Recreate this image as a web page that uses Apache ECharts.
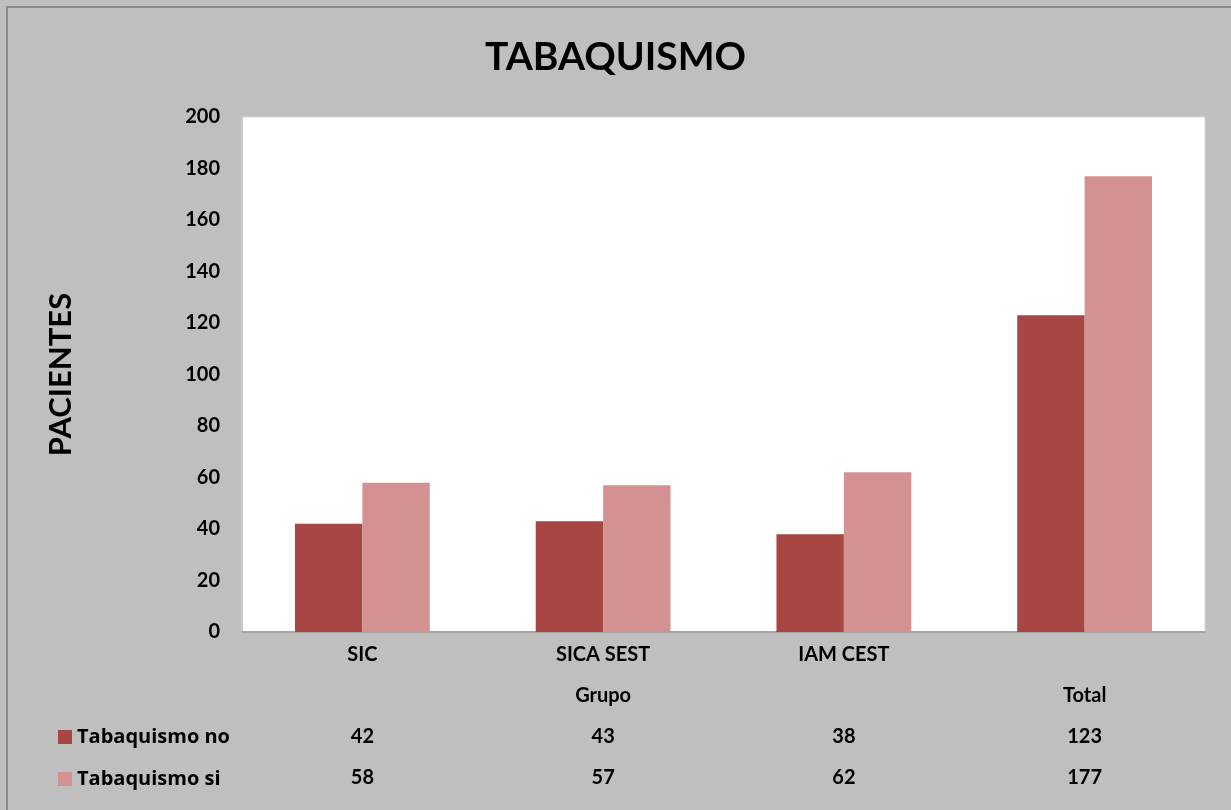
<!DOCTYPE html>
<html>
<head>
<meta charset="utf-8">
<title>TABAQUISMO</title>
<script src="https://cdn.jsdelivr.net/npm/echarts@6/dist/echarts.min.js"></script>
<style>
  html, body { margin: 0; padding: 0; background: #bfbfbf; overflow: hidden; }
  #frame { position: absolute; left: 6px; top: 6px; width: 1240px; height: 820px;
           border: 2px solid #8c8c8c; box-sizing: border-box; }
  #chart { position: absolute; left: 0; top: 0; width: 1231px; height: 810px; }
</style>
</head>
<body>
<div id="frame"></div>
<div id="chart"></div>
<script>
// Smoking status of patients by group
const categories = ['SIC', 'SICA SEST', 'IAM CEST', ''];
const groupLabels = ['', 'Grupo', '', 'Total'];
const seriesNames = ['Tabaquismo no', 'Tabaquismo si'];
const tabaquismoNo = [42, 43, 38, 123];
const tabaquismoSi = [58, 57, 62, 177];
const yTicks = { min: 0, max: 200, interval: 20 };

const FONT = 'Lato, "Open Sans", sans-serif';
const chart = echarts.init(document.getElementById('chart'), null, { renderer: 'canvas' });

chart.setOption({
  backgroundColor: 'transparent',
  animation: false,
  title: {
    text: 'TABAQUISMO',
    left: 'center',
    top: 33,
    textStyle: { fontFamily: FONT, fontWeight: 'bold', fontSize: 39, color: '#000' }
  },
  legend: {
    orient: 'vertical',
    left: 53,
    top: 722,
    itemWidth: 14,
    itemHeight: 14,
    itemGap: 22,
    icon: 'rect',
    selectedMode: false,
    textStyle: { fontFamily: '"Open Sans", sans-serif', fontWeight: 'bold', fontSize: 20, color: '#000' },
    data: seriesNames
  },
  grid: {
    left: 242, top: 117, right: 26, bottom: 178,
    show: true, backgroundColor: '#ffffff', borderColor: '#d6d6d6', borderWidth: 1,
    containLabel: false
  },
  xAxis: {
    type: 'category',
    data: categories,
    axisLine: { show: true, lineStyle: { color: '#a6a6a6', width: 2 } },
    axisTick: { show: false },
    axisLabel: {
      interval: 0,
      margin: 2,
      lineHeight: 41,
      formatter: function (value, idx) {
        return '{a|' + (value || ' ') + '}\n{a|' + (groupLabels[idx] || ' ') + '}\n{a|' +
          tabaquismoNo[idx] + '}\n{a|' + tabaquismoSi[idx] + '}';
      },
      rich: {
        a: { fontFamily: FONT, fontWeight: 'bold', fontSize: 20, color: '#000', lineHeight: 41 }
      }
    }
  },
  yAxis: {
    type: 'value',
    min: yTicks.min, max: yTicks.max, interval: yTicks.interval,
    name: 'PACIENTES',
    nameLocation: 'middle',
    nameGap: 166,
    nameRotate: 90,
    nameTextStyle: { fontFamily: FONT, fontWeight: 'bold', fontSize: 31, color: '#000' },
    axisLine: { show: true, lineStyle: { color: '#c8c8c8', width: 1 } },
    axisTick: { show: false },
    splitLine: { show: false },
    axisLabel: { margin: 22, fontFamily: FONT, fontWeight: 'bold', fontSize: 20, color: '#000' }
  },
  series: [
    {
      name: seriesNames[0], type: 'bar', data: tabaquismoNo,
      barGap: '0%', barCategoryGap: '44%',
      itemStyle: { color: '#a84644' }
    },
    {
      name: seriesNames[1], type: 'bar', data: tabaquismoSi,
      barGap: '0%', barCategoryGap: '44%',
      itemStyle: { color: '#d39291' }
    }
  ]
});
</script>
</body>
</html>
